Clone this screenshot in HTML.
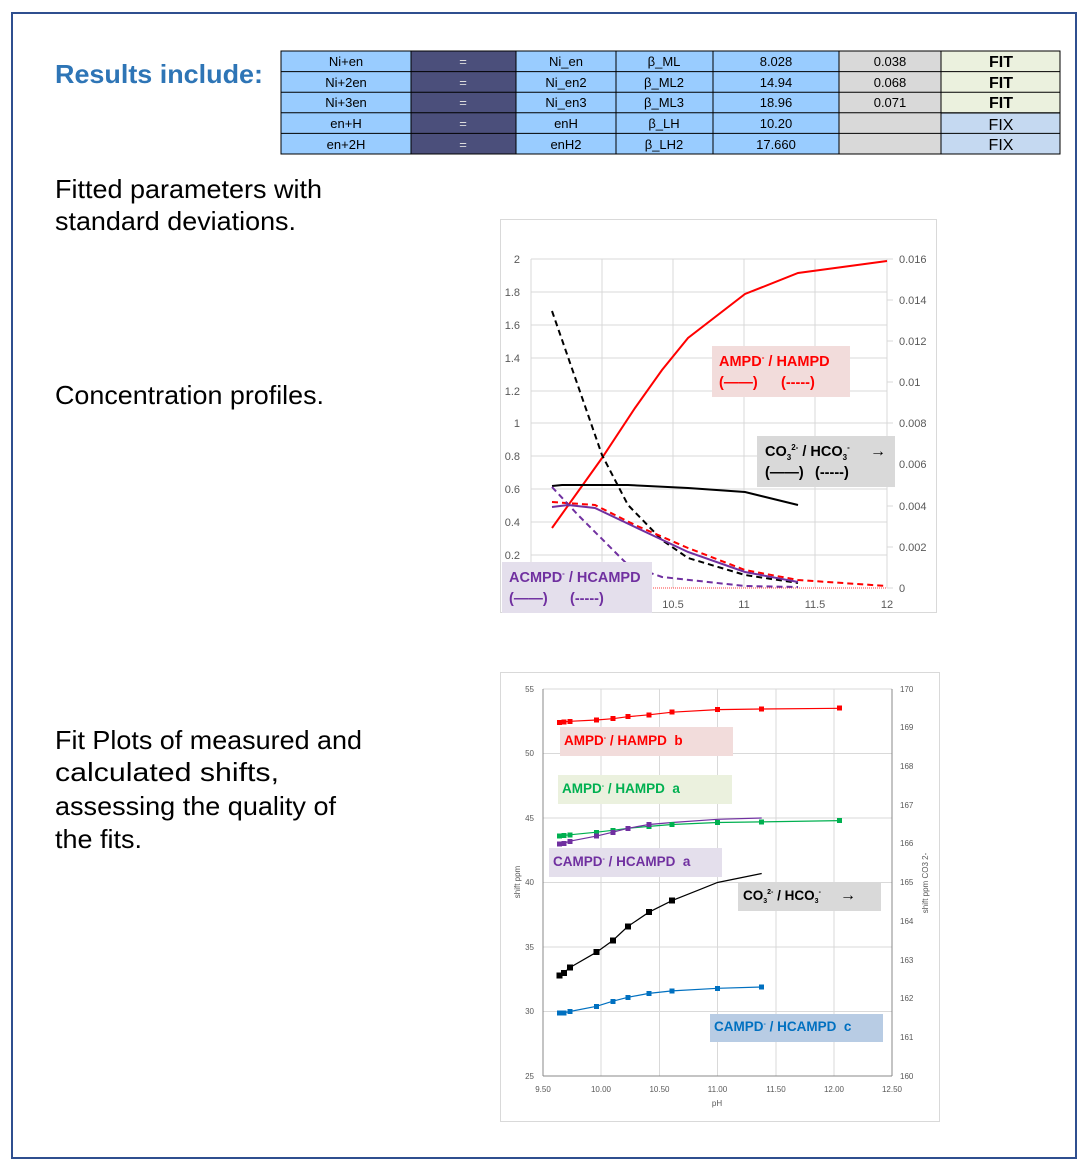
<!DOCTYPE html>
<html><head><meta charset="utf-8"><style>
html,body{margin:0;padding:0;background:#fff}
svg{display:block;font-family:"Liberation Sans",sans-serif}
text{white-space:pre}
</style></head><body>
<svg width="1090" height="1168" viewBox="0 0 1090 1168" xmlns="http://www.w3.org/2000/svg" xml:space="preserve">
<rect x="12" y="13" width="1064" height="1145" fill="#fff" stroke="#2f4f8f" stroke-width="2"/>

<!-- left text -->
<text x="55" y="83" font-size="26" font-weight="bold" fill="#2e75b6" textLength="208" lengthAdjust="spacingAndGlyphs">Results include:</text>
<g font-size="26" fill="#000">
<text x="55" y="198" textLength="267" lengthAdjust="spacingAndGlyphs">Fitted parameters with</text>
<text x="55" y="230" textLength="241" lengthAdjust="spacingAndGlyphs">standard deviations.</text>
<text x="55" y="404" textLength="269" lengthAdjust="spacingAndGlyphs">Concentration profiles.</text>
<text x="55" y="749" textLength="307" lengthAdjust="spacingAndGlyphs">Fit Plots of measured and</text>
<text x="55" y="781" textLength="224" lengthAdjust="spacingAndGlyphs">calculated shifts,</text>
<text x="55" y="815" textLength="281" lengthAdjust="spacingAndGlyphs">assessing the quality of</text>
<text x="55" y="848" textLength="87" lengthAdjust="spacingAndGlyphs">the fits.</text>
</g>

<!-- table -->
<g stroke="#000" stroke-width="1">
<rect x="281" y="51" width="130" height="103" fill="#99ccff"/>
<rect x="411" y="51" width="105" height="103" fill="#4b4f7b"/>
<rect x="516" y="51" width="323" height="103" fill="#99ccff"/>
<rect x="839" y="51" width="102" height="103" fill="#d9d9d9"/>
<rect x="941" y="51" width="119" height="62" fill="#ebf1de"/>
<rect x="941" y="113" width="119" height="41" fill="#c5d9f1"/>
<line x1="616" y1="51" x2="616" y2="154"/><line x1="713" y1="51" x2="713" y2="154"/>
<line x1="281" y1="71.6" x2="1060" y2="71.6"/><line x1="281" y1="92.2" x2="1060" y2="92.2"/>
<line x1="281" y1="112.8" x2="1060" y2="112.8"/><line x1="281" y1="133.4" x2="1060" y2="133.4"/>
</g>
<g font-size="13" text-anchor="middle" fill="#000">
<text x="346" y="66">Ni+en</text><text x="346" y="87">Ni+2en</text><text x="346" y="107">Ni+3en</text><text x="346" y="128">en+H</text><text x="346" y="149">en+2H</text>
<g fill="#ddd"><text x="463" y="66">=</text><text x="463" y="87">=</text><text x="463" y="107">=</text><text x="463" y="128">=</text><text x="463" y="149">=</text></g>
<text x="566" y="66">Ni_en</text><text x="566" y="87">Ni_en2</text><text x="566" y="107">Ni_en3</text><text x="566" y="128">enH</text><text x="566" y="149">enH2</text>
<text x="664" y="66">β_ML</text><text x="664" y="87">β_ML2</text><text x="664" y="107">β_ML3</text><text x="664" y="128">β_LH</text><text x="664" y="149">β_LH2</text>
<text x="776" y="66">8.028</text><text x="776" y="87">14.94</text><text x="776" y="107">18.96</text><text x="776" y="128">10.20</text><text x="776" y="149">17.660</text>
<text x="890" y="66">0.038</text><text x="890" y="87">0.068</text><text x="890" y="107">0.071</text>
<g font-size="16"><text x="1001" y="67" font-weight="bold">FIT</text><text x="1001" y="88" font-weight="bold">FIT</text><text x="1001" y="108" font-weight="bold">FIT</text><text x="1001" y="130">FIX</text><text x="1001" y="150">FIX</text></g>
</g>

<!-- chart 1 -->
<rect x="500.5" y="219.5" width="436" height="393" fill="#fff" stroke="#d9d9d9"/>
<g stroke="#d9d9d9" stroke-width="1">
<line x1="531" y1="259" x2="887" y2="259"/><line x1="531" y1="292" x2="887" y2="292"/><line x1="531" y1="325" x2="887" y2="325"/><line x1="531" y1="358" x2="887" y2="358"/><line x1="531" y1="391" x2="887" y2="391"/><line x1="531" y1="423" x2="887" y2="423"/><line x1="531" y1="456" x2="887" y2="456"/><line x1="531" y1="489" x2="887" y2="489"/><line x1="531" y1="522" x2="887" y2="522"/><line x1="531" y1="555" x2="887" y2="555"/>
<line x1="531" y1="259" x2="531" y2="588"/><line x1="602" y1="259" x2="602" y2="588"/><line x1="673" y1="259" x2="673" y2="588"/><line x1="744" y1="259" x2="744" y2="588"/><line x1="815" y1="259" x2="815" y2="588"/><line x1="887" y1="259" x2="887" y2="588"/>
<line x1="887" y1="259" x2="893" y2="259"/><line x1="887" y1="300" x2="893" y2="300"/><line x1="887" y1="341" x2="893" y2="341"/><line x1="887" y1="382" x2="893" y2="382"/><line x1="887" y1="423" x2="893" y2="423"/><line x1="887" y1="464" x2="893" y2="464"/><line x1="887" y1="506" x2="893" y2="506"/><line x1="887" y1="547" x2="893" y2="547"/><line x1="887" y1="588" x2="893" y2="588"/>
</g>
<line x1="531" y1="588" x2="887" y2="588" stroke="#f00" stroke-width="0.8" stroke-dasharray="1,1"/>
<g font-size="11" fill="#595959" text-anchor="end">
<text x="520" y="263">2</text><text x="520" y="296">1.8</text><text x="520" y="329">1.6</text><text x="520" y="362">1.4</text><text x="520" y="395">1.2</text><text x="520" y="427">1</text><text x="520" y="460">0.8</text><text x="520" y="493">0.6</text><text x="520" y="526">0.4</text><text x="520" y="559">0.2</text>
</g>
<g font-size="11" fill="#595959">
<text x="899" y="263">0.016</text><text x="899" y="304">0.014</text><text x="899" y="345">0.012</text><text x="899" y="386">0.01</text><text x="899" y="427">0.008</text><text x="899" y="468">0.006</text><text x="899" y="510">0.004</text><text x="899" y="551">0.002</text><text x="899" y="592">0</text>
</g>
<g font-size="11" fill="#595959" text-anchor="middle"><text x="673" y="608">10.5</text><text x="744" y="608">11</text><text x="815" y="608">11.5</text><text x="887" y="608">12</text></g>
<g fill="none" stroke-width="2">
<polyline stroke="#f00" points="552,528 602,458 635,408 662,370 688,338 745,294 798,273 887,261"/>
<polyline stroke="#000" stroke-dasharray="6,4" points="552,311 602,455 628,505 662,540 688,558 745,575 798,583"/>
<polyline stroke="#000" points="552,486 562,485 628,485 688,488 745,492 798,505"/>
<polyline stroke="#f00" stroke-dasharray="6,4" points="552,502 595,505 635,525 688,548 745,570 798,580 887,586"/>
<polyline stroke="#7030a0" points="552,507 568,505 595,508 635,527 688,552 745,572 798,582"/>
<polyline stroke="#7030a0" stroke-dasharray="6,4" points="552,487 578,515 628,565 662,577 745,586 798,587"/>
</g>
<rect x="712" y="346" width="138" height="51" fill="#f2dcdb"/>
<g font-size="14.5" font-weight="bold" fill="#f00"><text x="719" y="366">AMPD<tspan font-size="8" dy="-6">-</tspan><tspan dy="6"> / HAMPD</tspan></text><text x="719" y="387">(——)</text><text x="781" y="387">(-----)</text></g>
<rect x="757" y="436" width="138" height="51" fill="#d9d9d9"/>
<g font-size="14.5" font-weight="bold" fill="#000"><text x="765" y="456">CO<tspan font-size="8" dy="4">3</tspan><tspan font-size="8" dy="-10">2-</tspan><tspan dy="6"> / HCO</tspan><tspan font-size="8" dy="4">3</tspan><tspan font-size="8" dy="-10">-</tspan></text><text x="870" y="456" font-size="16">→</text><text x="765" y="477">(——)</text><text x="815" y="477">(-----)</text></g>
<rect x="502" y="562" width="150" height="51" fill="#e4dfec"/>
<g font-size="14.5" font-weight="bold" fill="#7030a0"><text x="509" y="582">ACMPD<tspan font-size="8" dy="-6">-</tspan><tspan dy="6"> / HCAMPD</tspan></text><text x="509" y="603">(——)</text><text x="570" y="603">(-----)</text></g>

<!-- chart 2 -->
<rect x="500.5" y="672.5" width="439" height="449" fill="#fff" stroke="#d9d9d9"/>
<g stroke="#d9d9d9" stroke-width="1">
<line x1="543" y1="689" x2="892" y2="689"/><line x1="543" y1="753.5" x2="892" y2="753.5"/><line x1="543" y1="818" x2="892" y2="818"/><line x1="543" y1="882.5" x2="892" y2="882.5"/><line x1="543" y1="947" x2="892" y2="947"/><line x1="543" y1="1011.5" x2="892" y2="1011.5"/><line x1="543" y1="1076" x2="892" y2="1076"/>
<line x1="543" y1="689" x2="543" y2="1076"/><line x1="601" y1="689" x2="601" y2="1076"/><line x1="659.5" y1="689" x2="659.5" y2="1076"/><line x1="717.5" y1="689" x2="717.5" y2="1076"/><line x1="776" y1="689" x2="776" y2="1076"/><line x1="834" y1="689" x2="834" y2="1076"/><line x1="892" y1="689" x2="892" y2="1076"/>
</g>
<g stroke="#888" stroke-width="1"><line x1="543" y1="689" x2="543" y2="1076"/><line x1="543" y1="1076" x2="892" y2="1076"/><line x1="892" y1="689" x2="892" y2="1076"/></g>
<g font-size="8" fill="#595959" text-anchor="end">
<text x="534" y="692">55</text><text x="534" y="756">50</text><text x="534" y="821">45</text><text x="534" y="885">40</text><text x="534" y="950">35</text><text x="534" y="1014">30</text><text x="534" y="1079">25</text>
</g>
<g font-size="8" fill="#595959">
<text x="900" y="692">170</text><text x="900" y="730">169</text><text x="900" y="769">168</text><text x="900" y="808">167</text><text x="900" y="846">166</text><text x="900" y="885">165</text><text x="900" y="924">164</text><text x="900" y="963">163</text><text x="900" y="1001">162</text><text x="900" y="1040">161</text><text x="900" y="1079">160</text>
</g>
<g font-size="8" fill="#595959" text-anchor="middle">
<text x="543" y="1092">9.50</text><text x="601" y="1092">10.00</text><text x="659.5" y="1092">10.50</text><text x="717.5" y="1092">11.00</text><text x="776" y="1092">11.50</text><text x="834" y="1092">12.00</text><text x="892" y="1092">12.50</text>
<text x="717" y="1106">pH</text>
<text transform="translate(520,882) rotate(-90)">shift ppm</text>
<text transform="translate(928,883) rotate(-90)">shift ppm CO3 2-</text>
</g>
<g fill="none" stroke-width="1.2">
<polyline stroke="#f00" points="559.3,722.5 563.9,721.9 569.8,721.3 596.5,720 612.8,718.7 627.9,716.7 648.9,714.8 672.1,712.2 717.5,709.6 761.7,709 839.6,708.3"/>
<polyline stroke="#00b050" points="559.3,836.1 563.9,835.4 569.8,834.8 596.5,832.2 612.8,830.3 627.9,828.3 648.9,826.4 672.1,824.5 717.5,822.5 761.7,821.9 839.6,820.6"/>
<polyline stroke="#7030a0" points="559.3,843.8 563.9,843.2 569.8,841.2 596.5,836.1 612.8,832.2 627.9,828.3 648.9,824.5 672.1,822.5 717.5,819.3 761.7,818"/>
<polyline stroke="#000" points="559.3,975.4 563.9,972.8 569.8,967.6 596.5,952.2 612.8,940.5 627.9,926.4 648.9,912.2 672.1,900.6 717.5,882.5 761.7,873.5"/>
<polyline stroke="#0070c0" points="559.3,1012.8 563.9,1012.8 569.8,1011.5 596.5,1006.3 612.8,1001.2 627.9,997.3 648.9,993.4 672.1,990.9 717.5,988.3 761.7,987"/>
</g>
<g fill="#f00"><rect x="557" y="720" width="5" height="5"/><rect x="561.5" y="719.5" width="5" height="5"/><rect x="567.5" y="719" width="5" height="5"/><rect x="594" y="717.5" width="5" height="5"/><rect x="610.5" y="716" width="5" height="5"/><rect x="625.5" y="714" width="5" height="5"/><rect x="646.5" y="712.5" width="5" height="5"/><rect x="669.5" y="709.5" width="5" height="5"/><rect x="715" y="707" width="5" height="5"/><rect x="759" y="706.5" width="5" height="5"/><rect x="837" y="705.5" width="5" height="5"/></g>
<g fill="#00b050"><rect x="557" y="833.5" width="5" height="5"/><rect x="561.5" y="833" width="5" height="5"/><rect x="567.5" y="832.5" width="5" height="5"/><rect x="594" y="830" width="5" height="5"/><rect x="610.5" y="828" width="5" height="5"/><rect x="625.5" y="826" width="5" height="5"/><rect x="646.5" y="824" width="5" height="5"/><rect x="669.5" y="822" width="5" height="5"/><rect x="715" y="820" width="5" height="5"/><rect x="759" y="819.5" width="5" height="5"/><rect x="837" y="818" width="5" height="5"/></g>
<g fill="#7030a0"><rect x="557" y="841.5" width="5" height="5"/><rect x="561.5" y="841" width="5" height="5"/><rect x="567.5" y="839" width="5" height="5"/><rect x="594" y="833.5" width="5" height="5"/><rect x="610.5" y="830" width="5" height="5"/><rect x="625.5" y="826" width="5" height="5"/><rect x="646.5" y="822" width="5" height="5"/></g>
<g fill="#000"><rect x="556.5" y="972.5" width="6" height="6"/><rect x="561" y="970" width="6" height="6"/><rect x="567" y="964.5" width="6" height="6"/><rect x="593.5" y="949" width="6" height="6"/><rect x="610" y="937.5" width="6" height="6"/><rect x="625" y="923.5" width="6" height="6"/><rect x="646" y="909" width="6" height="6"/><rect x="669" y="897.5" width="6" height="6"/></g>
<g fill="#0070c0"><rect x="557" y="1010.5" width="5" height="5"/><rect x="561.5" y="1010.5" width="5" height="5"/><rect x="567.5" y="1009" width="5" height="5"/><rect x="594" y="1004" width="5" height="5"/><rect x="610.5" y="999" width="5" height="5"/><rect x="625.5" y="995" width="5" height="5"/><rect x="646.5" y="991" width="5" height="5"/><rect x="669.5" y="988.5" width="5" height="5"/><rect x="715" y="986" width="5" height="5"/><rect x="759" y="984.5" width="5" height="5"/></g>

<rect x="560" y="727" width="173" height="29" fill="#f2dcdb"/>
<text x="564" y="745" font-size="13.5" font-weight="bold" fill="#f00">AMPD<tspan font-size="7" dy="-5">-</tspan><tspan dy="5"> / HAMPD  b</tspan></text>
<rect x="558" y="775" width="174" height="29" fill="#ebf1de"/>
<text x="562" y="793" font-size="13.5" font-weight="bold" fill="#00b050">AMPD<tspan font-size="7" dy="-5">-</tspan><tspan dy="5"> / HAMPD  a</tspan></text>
<rect x="549" y="848" width="173" height="29" fill="#e4dfec"/>
<text x="553" y="866" font-size="13.5" font-weight="bold" fill="#7030a0">CAMPD<tspan font-size="7" dy="-5">-</tspan><tspan dy="5"> / HCAMPD  a</tspan></text>
<rect x="738" y="882" width="143" height="29" fill="#d9d9d9"/>
<text x="743" y="900" font-size="13.5" font-weight="bold" fill="#000">CO<tspan font-size="7" dy="3">3</tspan><tspan font-size="7" dy="-9">2-</tspan><tspan dy="6"> / HCO</tspan><tspan font-size="7" dy="3">3</tspan><tspan font-size="7" dy="-9">-</tspan></text>
<text x="840" y="900" font-size="16" font-weight="bold">→</text>
<rect x="710" y="1014" width="173" height="28" fill="#b8cce4"/>
<text x="714" y="1031" font-size="13.5" font-weight="bold" fill="#0070c0">CAMPD<tspan font-size="7" dy="-5">-</tspan><tspan dy="5"> / HCAMPD  c</tspan></text>
</svg>
</body></html>
